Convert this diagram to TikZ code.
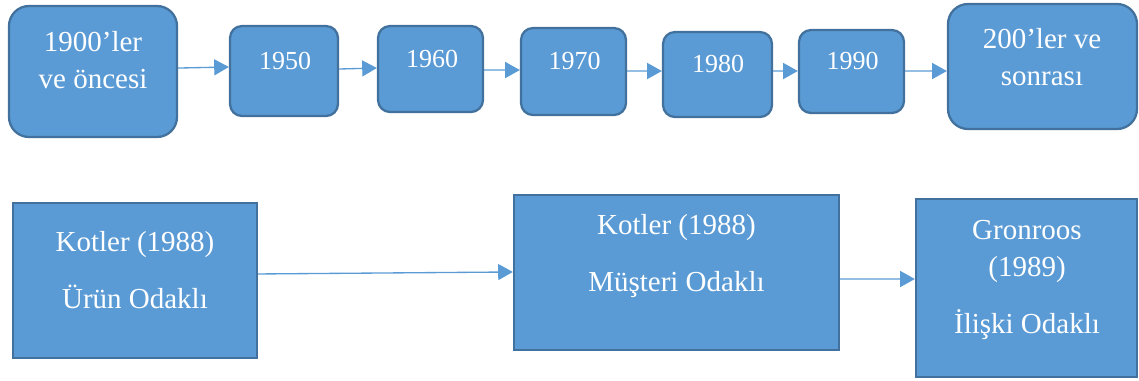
\documentclass[tikz,border=0pt]{standalone}
\usepackage{fontspec}
\setmainfont{Liberation Serif}
\usetikzlibrary{arrows.meta,fit}
\definecolor{boxfill}{HTML}{5B9BD5}
\definecolor{boxline}{HTML}{41719C}
\tikzset{
  roundbox/.style={draw=boxline, fill=boxfill, line width=1.7pt, rounded corners=#1, inner sep=0pt},
  sqbox/.style={draw=boxline, fill=boxfill, line width=1.7pt, inner sep=0pt},
  bigtxt/.style={text=white, font=\fontsize{21.75pt}{27.75pt}\selectfont, align=center, anchor=base, inner sep=0pt},
  smalltxt/.style={text=white, font=\fontsize{19.5pt}{24pt}\selectfont, anchor=base, inner sep=0pt},
  link/.style={draw=boxfill, line width=1pt, -{Triangle[length=11pt,width=12pt]}},
}
\begin{document}
\begin{tikzpicture}[x=0.75pt,y=-0.75pt]
\path[use as bounding box] (0,0) rectangle (1139,380);
% top row boxes
\node[roundbox=15pt, fit={(9,6)(177,137)}] (b1) {};
\node[roundbox=9pt, fit={(230,26)(338,116)}] (b2) {};
\node[roundbox=9pt, fit={(378,26)(483,112)}] (b3) {};
\node[roundbox=9pt, fit={(521,28)(626,115)}] (b4) {};
\node[roundbox=9pt, fit={(663,32)(772,117)}] (b5) {};
\node[roundbox=9pt, fit={(799,30)(904,113)}] (b6) {};
\node[roundbox=15pt, fit={(948,4)(1137,129)}] (b7) {};
% bottom row boxes
\node[sqbox, fit={(13,203)(257,358)}] (c1) {};
\node[sqbox, fit={(514,195)(839,350)}] (c2) {};
\node[sqbox, fit={(916,199)(1137,377)}] (c3) {};
% texts (anchor base = baseline of the last line)
\node[bigtxt] (t1) at (93,88) {1900’ler\\ve öncesi};
\node[smalltxt] (t2) at (285,69) {1950};
\node[smalltxt] (t3) at (432,67) {1960};
\node[smalltxt] (t4) at (574.5,69.5) {1970};
\node[smalltxt] (t5) at (718,72) {1980};
\node[smalltxt] (t6) at (852.5,69) {1990};
\node[bigtxt] (t7) at (1042,85) {200’ler ve\\sonrası};
\node[bigtxt] (t8) at (135,308) {Kotler (1988)\\[15pt]Ürün Odaklı};
\node[bigtxt] (t9) at (676.5,291.5) {Kotler (1988)\\[15pt]Müşteri Odaklı};
\node[bigtxt] (t10) at (1027,333.5) {Gronroos\\(1989)\\[15pt]İlişki Odaklı};
% connectors
\draw[link] ([yshift=2.6pt]b1.east) -- ([yshift=3pt]b2.west);
\draw[link] ([yshift=1.5pt]b2.east) -- ([yshift=0.75pt]b3.west);
\draw[link] ([yshift=-0.75pt]b3.east) -- ([yshift=1.1pt]b4.west);
\draw[link] ([yshift=0.4pt]b4.east) -- ([yshift=2.6pt]b5.west);
\draw[link] ([yshift=2.6pt]b5.east) -- ([yshift=0.4pt]b6.west);
\draw[link] ([yshift=0.4pt]b6.east) -- ([yshift=-3.4pt]b7.west);
\draw[link] ([yshift=4.9pt]c1.east) -- ([yshift=0.4pt]c2.west);
\draw[link] ([yshift=-4.9pt]c2.east) -- ([yshift=6.75pt]c3.west);
\end{tikzpicture}
\end{document}
